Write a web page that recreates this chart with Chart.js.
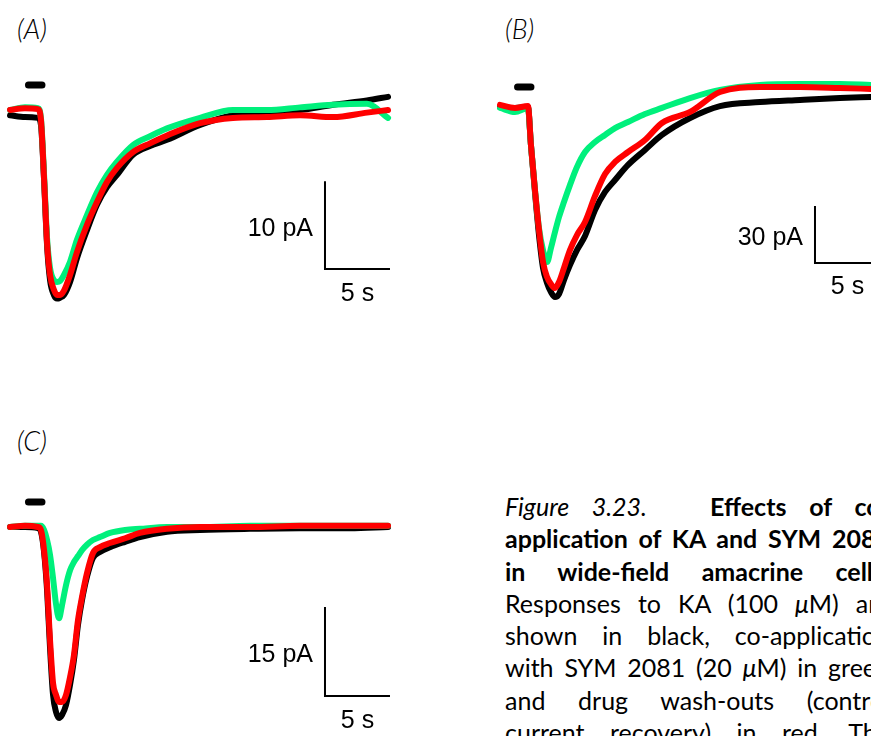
<!DOCTYPE html>
<html><head><meta charset="utf-8">
<script src="https://cdn.jsdelivr.net/npm/chart.js@4.4.1/dist/chart.umd.min.js"></script>
<style>
html,body{margin:0;padding:0;background:#fff;width:871px;height:736px;overflow:hidden;}
body{position:relative;}
canvas{position:absolute;}
.lab{position:absolute;font-family:"Liberation Sans",Arial,sans-serif;font-size:25px;line-height:25px;color:#000;white-space:nowrap;}
.pl{position:absolute;font-family:Lato,sans-serif;font-style:italic;font-weight:300;font-size:27px;line-height:32px;color:#000;}
#cap{position:absolute;left:505px;top:490px;width:385px;font-family:Lato,sans-serif;font-size:25px;line-height:32.3px;color:#000;}
#cap div{text-align:justify;text-align-last:justify;}
#cap b{font-weight:700;}
</style></head>
<body>
<canvas id="cA" width="410" height="260" style="left:0px;top:60px"></canvas>
<canvas id="cB" width="381" height="260" style="left:490px;top:60px"></canvas>
<canvas id="cC" width="410" height="256" style="left:0px;top:480px"></canvas>
<div id="cap">
<div><i>Figure 3.23.</i><span style="display:inline-block;width:40px"></span> <b>Effects of co-</b></div>
<div><b>application of KA and SYM 2081</b></div>
<div><b>in wide-field amacrine cells.</b></div>
<div>Responses to KA (100 <i>μ</i>M) are</div>
<div>shown in black, co-application</div>
<div>with SYM 2081 (20 <i>μ</i>M) in green</div>
<div>and drug wash-outs (control</div>
<div>current recovery) in red. The</div>
</div>
<script>
// ---- Panel A: time (s) and current (pA) ----
const timeA    = [0, 1.15, 2.15, 2.38, 2.62, 2.85, 3.08, 3.38, 3.62, 3.85, 4.15, 4.62, 5.15, 5.92, 6.69, 7.46, 8.23, 9.46, 10.77, 12.08, 14.62, 17.15, 19.77, 22.31, 24.85, 27.46, 29.08];
const controlA = [-0.6, -0.8, -0.9, -1.7, -8.0, -15.4, -19.4, -21.1, -21.5, -21.4, -21.1, -19.6, -16.9, -13.7, -10.8, -8.8, -7.4, -5.1, -4.1, -3.4, -1.7, -0.6, -0.2, 0.0, 0.6, 1.1, 1.5];
const symA     = [0, 0.3, 0.2, -0.9, -7.4, -14.6, -18.0, -19.4, -19.6, -19.5, -18.8, -17.3, -14.8, -12.0, -9.4, -7.4, -5.9, -4.0, -3.0, -2.1, -0.9, 0.0, 0.0, 0.3, 0.6, 0.7, -0.9];
const washA    = [0, 0.2, 0.1, -1.1, -7.8, -15.1, -18.8, -20.5, -21.1, -21.1, -20.6, -18.8, -16.2, -13.1, -10.5, -8.2, -6.6, -4.8, -3.8, -2.9, -1.5, -0.9, -0.8, -0.6, -0.8, -0.3, 0.0];

// ---- Panel B ----
const timeB    = [0, 1.15, 2.15, 2.38, 2.69, 3.0, 3.31, 3.62, 3.92, 4.23, 4.54, 4.92, 5.38, 5.92, 6.54, 7.31, 8.08, 8.85, 9.85, 11.15, 12.46, 14.62, 16.92, 20.0, 23.08, 26.15, 28.54];
const controlB = [0, -0.5, 0, -20.0, -44.7, -67.4, -84.7, -92.6, -97.4, -100.0, -98.4, -91.1, -83.2, -75.3, -67.9, -54.2, -44.7, -38.4, -30.5, -22.6, -14.7, -5.8, 0.5, 2.6, 3.7, 4.7, 5.3];
const symB     = [-0.5, -2.6, -0.5, -20.0, -43.7, -63.7, -75.3, -81.6, -74.2, -65.8, -57.9, -50.0, -41.1, -31.6, -23.7, -18.4, -14.7, -11.1, -7.9, -3.7, -0.5, 4.7, 9.0, 11.6, 12.1, 12.1, 11.6];
const washB    = [1.1, -0.5, 0.5, -20.0, -43.7, -64.7, -81.6, -89.5, -93.2, -95.3, -92.1, -84.7, -75.3, -67.4, -60.5, -46.8, -35.3, -28.9, -23.7, -17.4, -8.4, -2.6, 7.9, 10.5, 10.5, 10.0, 9.5];

// ---- Panel C ----
const timeC    = [0, 1.15, 2.15, 2.38, 2.62, 2.85, 3.08, 3.31, 3.54, 3.77, 4.0, 4.31, 4.62, 4.92, 5.23, 5.54, 5.92, 6.38, 6.92, 7.69, 8.85, 10.0, 12.08, 14.62, 18.46, 22.31, 26.15, 29.08];
const controlC = [0, 0, -0.2, -0.8, -4.2, -10.6, -20.4, -28.3, -31.2, -32.2, -31.7, -30.0, -26.6, -22.4, -16.5, -12.3, -8.4, -5.2, -4.2, -3.4, -2.5, -1.7, -0.8, -0.5, -0.3, -0.2, -0.2, 0];
const symC     = [0, 0.2, 0.2, 0.2, -0.5, -2.2, -4.7, -8.6, -13.0, -15.4, -13.2, -9.8, -7.3, -5.9, -4.9, -3.9, -3.0, -2.2, -1.7, -1.0, -0.5, -0.3, 0, 0, 0.2, 0.2, 0.2, 0.2];
const washC    = [0, 0.2, 0, -0.5, -3.9, -9.8, -19.1, -26.3, -28.3, -29.5, -29.5, -28.3, -25.3, -21.6, -15.7, -11.8, -7.8, -4.4, -3.4, -2.7, -1.9, -1.0, -0.3, 0, 0, 0.2, 0.2, 0.2];

// ---- Scale bars, drug application bars, titles ----
const panelTitles     = ['(A)', '(B)', '(C)'];
const scaleBarPA      = [10, 30, 15];
const scaleBarSec     = 5;
const scaleBarCornerT = [24.23, 24.23, 24.23];
const scaleBarCornerI = [-18.13, -82.1, -28.5];
const appBarStart     = [1.42, 1.35, 1.42];
const appBarEnd       = [2.46, 2.38, 2.46];
const appBarLevel     = [2.85, 10.5, 4.2];

// ---- layout (pixel calibration of each panel) ----
const layouts = [
  {id:'cA', left:0,   top:60,  w:410, h:260, x0:10,  y0:110, pxs:13, pxa:8.77, tx:17,  ty:13},
  {id:'cB', left:490, top:60,  w:381, h:260, x0:500, y0:107, pxs:13, pxa:1.9,  tx:505, ty:13},
  {id:'cC', left:0,   top:480, w:410, h:256, x0:10,  y0:527, pxs:13, pxa:5.93, tx:17,  ty:425}
];
const GREEN = '#00f07c', RED = '#ff0000', BLACK = '#000000';

function xy(t, v){ return t.map((x,i)=>({x:x, y:v[i]})); }

function trace(label, data, color, order){
  return {label, data, borderColor:color, backgroundColor:color, borderWidth:6,
    pointRadius:0, cubicInterpolationMode:'monotone', borderJoinStyle:'round', borderCapStyle:'round', order};
}
function bar(data, width, cap){
  return {label:'bar', data, borderColor:BLACK, borderWidth:width, pointRadius:0, tension:0,
    borderCapStyle:cap, borderJoinStyle:'miter', order:0};
}

function addLabel(text, cls, style){
  const d = document.createElement('div');
  d.className = cls; d.textContent = text;
  Object.assign(d.style, style);
  document.body.appendChild(d);
}

const sets = [[timeA, controlA, symA, washA],[timeB, controlB, symB, washB],[timeC, controlC, symC, washC]];

sets.forEach((s, i) => {
  const L = layouts[i];
  const [t, ctl, sym, wash] = s;
  const ct = scaleBarCornerT[i], ci = scaleBarCornerI[i];
  const chart = new Chart(document.getElementById(L.id), {
    type:'line',
    data:{datasets:[
      trace('Wash-out', xy(t, wash), RED, 1),
      trace('KA + SYM 2081', xy(t, sym), GREEN, 2),
      trace('KA', xy(t, ctl), BLACK, 3),
      bar([{x:ct, y:ci + scaleBarPA[i]}, {x:ct, y:ci}, {x:ct + scaleBarSec, y:ci}], 2, 'butt'),
      bar([{x:appBarStart[i], y:appBarLevel[i]}, {x:appBarEnd[i], y:appBarLevel[i]}], 7, 'round')
    ]},
    options:{
      responsive:false, animation:false, events:[],
      layout:{padding:0},
      plugins:{legend:{display:false}, tooltip:{enabled:false}},
      scales:{
        x:{type:'linear', display:false, min:(0 - (L.x0 - L.left))/L.pxs, max:(L.w - (L.x0 - L.left))/L.pxs},
        y:{type:'linear', display:false, min:-(L.top + L.h - L.y0)/L.pxa, max:(L.y0 - L.top)/L.pxa}
      }
    }
  });
  const xs = chart.scales.x, ys = chart.scales.y;
  const bx = L.left + xs.getPixelForValue(ct);
  const by = L.top + ys.getPixelForValue(ci);
  const btop = L.top + ys.getPixelForValue(ci + scaleBarPA[i]);
  const bxe = L.left + xs.getPixelForValue(ct + scaleBarSec);
  addLabel(scaleBarPA[i] + ' pA', 'lab', {right:(871 - (bx - 12)) + 'px', top:((by + btop)/2 - 10.5) + 'px'});
  addLabel(scaleBarSec + ' s', 'lab', {left:((bx + bxe)/2 - 20) + 'px', top:(by + 10.5) + 'px', width:'40px', textAlign:'center'});
  addLabel(panelTitles[i], 'pl', {left:L.tx + 'px', top:L.ty + 'px'});
});
</script>
</body></html>
